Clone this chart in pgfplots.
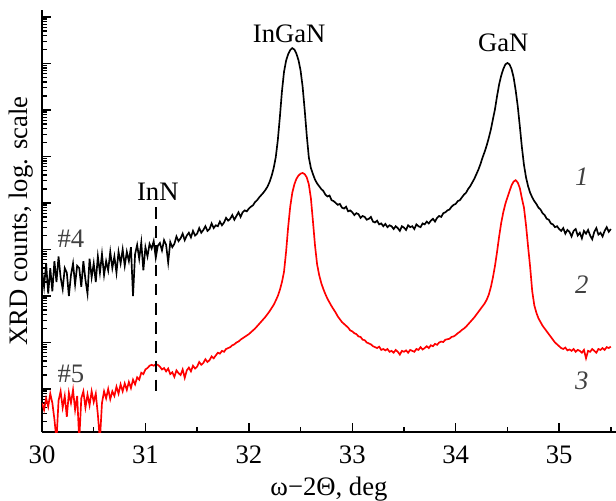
\documentclass[border=0pt]{standalone}
\usepackage{fontspec}
\setmainfont{Liberation Serif}
\usepackage{pgfplots}
\pgfplotsset{compat=1.18}
\definecolor{labelgray}{HTML}{404040}

% y values are log10 of the counts
\pgfplotstableread{
x L
30.00 3.55
30.02 3.20
30.04 3.70
30.06 3.05
30.08 3.60
30.10 3.10
30.12 3.75
30.14 3.30
30.16 3.85
30.18 3.40
30.20 3.15
30.22 3.60
30.24 3.50
30.26 3.00
30.28 3.45
30.30 3.70
30.32 3.25
30.34 3.65
30.36 3.60
30.38 3.20
30.40 3.75
30.42 3.35
30.44 3.05
30.46 3.80
30.48 3.40
30.50 3.70
30.52 3.30
30.54 3.85
30.56 3.50
30.58 3.90
30.60 3.45
30.62 3.75
30.64 3.55
30.66 3.95
30.68 3.60
30.70 3.85
30.72 3.50
30.74 3.95
30.76 3.70
30.78 4.00
30.80 3.65
30.82 3.95
30.84 3.75
30.86 4.05
30.88 3.00
30.90 3.90
30.92 4.10
30.94 3.80
30.96 4.15
30.98 3.55
31.00 4.05
31.02 3.85
31.04 4.12
31.06 4.02
31.08 4.18
31.10 3.82
31.12 4.08
31.14 4.14
31.16 3.98
31.18 4.20
31.20 4.10
31.22 3.72
31.24 4.16
31.26 4.05
31.28 4.12
31.30 4.28
31.32 4.18
31.34 4.24
31.36 4.34
31.38 4.20
31.40 4.30
31.42 4.36
31.44 4.26
31.46 4.40
31.48 4.30
31.50 4.34
31.52 4.46
31.54 4.36
31.56 4.42
31.58 4.50
31.60 4.40
31.62 4.44
31.64 4.56
31.66 4.46
31.68 4.52
31.70 4.50
31.72 4.60
31.74 4.52
31.76 4.58
31.78 4.68
31.80 4.62
31.82 4.66
31.84 4.74
31.86 4.64
31.88 4.72
31.90 4.80
31.92 4.70
31.94 4.80
31.96 4.84
31.98 4.82
32.00 4.88
32.02 4.92
32.04 4.95
32.06 5.02
32.08 5.06
32.10 5.12
32.12 5.17
32.14 5.22
32.16 5.28
32.18 5.35
32.20 5.45
32.22 5.58
32.24 5.75
32.26 5.98
32.28 6.35
32.30 6.85
32.32 7.40
32.34 7.82
32.36 8.06
32.38 8.20
32.40 8.29
32.42 8.33
32.44 8.30
32.46 8.21
32.48 8.07
32.50 7.85
32.52 7.50
32.54 7.00
32.56 6.45
32.58 5.98
32.60 5.75
32.62 5.62
32.64 5.50
32.66 5.42
32.68 5.36
32.70 5.30
32.72 5.26
32.74 5.18
32.76 5.14
32.78 5.16
32.80 5.06
32.82 5.04
32.84 5.00
32.86 4.96
32.88 4.98
32.90 4.90
32.92 4.88
32.94 4.92
32.96 4.82
32.98 4.84
33.00 4.80
33.02 4.74
33.04 4.78
33.06 4.76
33.08 4.68
33.10 4.72
33.12 4.70
33.14 4.64
33.16 4.66
33.18 4.70
33.20 4.60
33.22 4.58
33.24 4.62
33.26 4.54
33.28 4.56
33.30 4.50
33.32 4.55
33.34 4.48
33.36 4.52
33.38 4.50
33.40 4.44
33.42 4.50
33.44 4.46
33.46 4.40
33.48 4.50
33.50 4.47
33.52 4.42
33.54 4.52
33.56 4.48
33.58 4.50
33.60 4.44
33.62 4.54
33.64 4.50
33.66 4.48
33.68 4.56
33.70 4.54
33.72 4.60
33.74 4.56
33.76 4.62
33.78 4.66
33.80 4.60
33.82 4.68
33.84 4.72
33.86 4.70
33.88 4.78
33.90 4.80
33.92 4.84
33.94 4.86
33.96 4.92
33.98 4.96
34.00 4.98
34.02 5.04
34.04 5.06
34.06 5.12
34.08 5.18
34.10 5.22
34.12 5.30
34.14 5.36
34.16 5.44
34.18 5.52
34.20 5.62
34.22 5.72
34.24 5.84
34.26 5.98
34.28 6.10
34.30 6.24
34.32 6.40
34.34 6.58
34.36 6.80
34.38 7.02
34.40 7.30
34.42 7.55
34.44 7.74
34.46 7.88
34.48 7.98
34.50 8.01
34.52 7.98
34.54 7.88
34.56 7.70
34.58 7.42
34.60 7.08
34.62 6.65
34.64 6.20
34.66 5.82
34.68 5.55
34.70 5.36
34.72 5.22
34.74 5.12
34.76 5.04
34.78 4.98
34.80 4.90
34.82 4.86
34.84 4.78
34.86 4.74
34.88 4.66
34.90 4.64
34.92 4.56
34.94 4.54
34.96 4.48
34.98 4.50
35.00 4.44
35.02 4.40
35.04 4.46
35.06 4.34
35.08 4.42
35.10 4.38
35.12 4.28
35.14 4.40
35.16 4.44
35.18 4.30
35.20 4.36
35.22 4.24
35.24 4.40
35.26 4.34
35.28 4.42
35.30 4.30
35.32 4.22
35.34 4.38
35.36 4.46
35.38 4.32
35.40 4.36
35.42 4.28
35.44 4.40
35.46 4.48
35.48 4.38
35.50 4.44
}\sampleA

\pgfplotstableread{
x L
30.00 0.70
30.02 0.55
30.04 0.80
30.06 0.62
30.08 0.90
30.10 0.70
30.12 0.35
30.14 -0.10
30.16 0.75
30.18 0.95
30.20 0.60
30.22 0.85
30.24 0.40
30.26 0.92
30.28 0.70
30.30 0.98
30.32 0.55
30.34 0.85
30.36 -0.10
30.38 0.80
30.40 0.95
30.42 0.60
30.44 0.88
30.46 0.65
30.48 0.95
30.50 0.72
30.52 0.90
30.54 0.45
30.56 -0.10
30.58 0.70
30.60 0.95
30.62 0.80
30.64 1.00
30.66 0.78
30.68 0.95
30.70 0.85
30.72 1.05
30.74 0.90
30.76 1.10
30.78 0.95
30.80 1.12
30.82 0.98
30.84 1.15
30.86 1.02
30.88 1.20
30.90 1.10
30.92 1.25
30.94 1.20
30.96 1.35
30.98 1.32
31.00 1.42
31.02 1.45
31.04 1.50
31.06 1.52
31.08 1.50
31.10 1.53
31.12 1.52
31.14 1.48
31.16 1.42
31.18 1.45
31.20 1.38
31.22 1.44
31.24 1.32
31.26 1.36
31.28 1.26
31.30 1.40
31.32 1.34
31.34 1.30
31.36 1.42
31.38 1.24
31.40 1.40
31.42 1.46
31.44 1.38
31.46 1.50
31.48 1.44
31.50 1.48
31.52 1.58
31.54 1.52
31.56 1.56
31.58 1.64
31.60 1.58
31.62 1.62
31.64 1.70
31.66 1.66
31.68 1.72
31.70 1.78
31.72 1.76
31.74 1.82
31.76 1.80
31.78 1.86
31.80 1.88
31.82 1.90
31.84 1.94
31.86 1.96
31.88 2.00
31.90 2.02
31.92 2.06
31.94 2.09
31.96 2.12
31.98 2.15
32.00 2.18
32.02 2.22
32.04 2.26
32.06 2.30
32.08 2.35
32.10 2.40
32.12 2.45
32.14 2.50
32.16 2.55
32.18 2.61
32.20 2.67
32.22 2.74
32.24 2.81
32.26 2.90
32.28 3.00
32.30 3.13
32.32 3.30
32.34 3.52
32.36 3.95
32.38 4.48
32.40 4.92
32.42 5.22
32.44 5.40
32.46 5.52
32.48 5.59
32.50 5.63
32.52 5.645
32.54 5.62
32.56 5.55
32.58 5.40
32.60 5.10
32.62 4.60
32.64 4.08
32.66 3.68
32.68 3.45
32.70 3.28
32.72 3.15
32.74 3.04
32.76 2.94
32.78 2.86
32.80 2.78
32.82 2.71
32.84 2.64
32.86 2.56
32.88 2.50
32.90 2.44
32.92 2.40
32.94 2.36
32.96 2.32
32.98 2.26
33.00 2.24
33.02 2.20
33.04 2.18
33.06 2.13
33.08 2.12
33.10 2.06
33.12 2.05
33.14 2.00
33.16 1.98
33.18 1.96
33.20 1.92
33.22 1.90
33.24 1.88
33.26 1.91
33.28 1.84
33.30 1.86
33.32 1.83
33.34 1.86
33.36 1.80
33.38 1.82
33.40 1.78
33.42 1.84
33.44 1.80
33.46 1.74
33.48 1.82
33.50 1.80
33.52 1.83
33.54 1.78
33.56 1.84
33.58 1.82
33.60 1.80
33.62 1.86
33.64 1.84
33.66 1.90
33.68 1.85
33.70 1.88
33.72 1.92
33.74 1.88
33.76 1.94
33.78 1.92
33.80 1.97
33.82 1.95
33.84 2.00
33.86 2.02
33.88 2.01
33.90 2.06
33.92 2.07
33.94 2.08
33.96 2.12
33.98 2.13
34.00 2.16
34.02 2.20
34.04 2.23
34.06 2.27
34.08 2.30
34.10 2.34
34.12 2.39
34.14 2.44
34.16 2.49
34.18 2.54
34.20 2.60
34.22 2.66
34.24 2.72
34.26 2.78
34.28 2.84
34.30 2.92
34.32 3.03
34.34 3.19
34.36 3.40
34.38 3.65
34.40 3.95
34.42 4.28
34.44 4.57
34.46 4.80
34.48 4.98
34.50 5.12
34.52 5.25
34.54 5.38
34.56 5.46
34.58 5.49
34.60 5.44
34.62 5.32
34.64 5.10
34.66 4.90
34.68 4.52
34.70 4.06
34.72 3.62
34.74 3.10
34.76 2.80
34.78 2.64
34.80 2.52
34.82 2.44
34.84 2.36
34.86 2.30
34.88 2.24
34.90 2.18
34.92 2.12
34.94 2.06
34.96 2.00
34.98 1.96
35.00 1.92
35.02 1.88
35.04 1.86
35.06 1.89
35.08 1.83
35.10 1.85
35.12 1.82
35.14 1.86
35.16 1.80
35.18 1.84
35.20 1.82
35.22 1.78
35.24 1.84
35.26 1.66
35.28 1.82
35.30 1.80
35.32 1.86
35.34 1.82
35.36 1.78
35.38 1.86
35.40 1.84
35.42 1.88
35.44 1.84
35.46 1.90
35.48 1.88
35.50 1.91
}\sampleB

\begin{document}
\begin{tikzpicture}[font=\fontsize{16}{19}\selectfont]
\begin{axis}[
    scale only axis,
    width=344.4pt, height=253.2pt,
    xmin=30, xmax=35.55,
    ymin=0.075, ymax=9.15,
    axis lines*=left,
    axis line style={line width=1.2pt},
    tick align=inside,
    tick style={black, line width=0.8pt},
    major tick length=5.5pt,
    minor tick length=3.2pt,
    xtick={30,31,...,35},
    minor xtick={30.5,31.5,...,35.5},
    ytick={1,2,...,9},
    minor ytick={0.301,1.301,...,9.301,0.477,1.477,...,8.477,0.602,1.602,...,8.602,0.699,1.699,...,8.699,0.778,1.778,...,8.778,0.845,1.845,...,8.845,0.903,1.903,...,8.903,0.954,1.954,...,8.954},
    yticklabels={},
    /pgf/number format/assume math mode=true,
    xticklabel={\pgfmathprintnumber{\tick}},
    xticklabel style={anchor=base, yshift=-18.6pt},
    xlabel={ω−2Θ, deg},
    xlabel style={at={(axis description cs:0.5,0)}, anchor=base, yshift=-37.8pt},
    ylabel={XRD counts, log. scale},
    ylabel style={at={(axis description cs:-0.014,0.5)}, anchor=south, inner sep=0pt},
]
\addplot[black, line width=1pt] table[x=x, y=L] {\sampleA};
\addplot[red, line width=1pt] table[x=x, y=L] {\sampleB};
\draw[black, line width=0.9pt, dash pattern=on 7pt off 4.5pt] (axis cs:31.1,4.91) -- (axis cs:31.1,0.87);
\node[anchor=base] at (axis cs:32.39,8.46) {InGaN};
\node[anchor=base] at (axis cs:34.46,8.25) {GaN};
\node[anchor=base] at (axis cs:31.12,5.06) {InN};
\node[anchor=base, text=labelgray] at (axis cs:30.28,4.05) {\#4};
\node[anchor=base, text=labelgray] at (axis cs:30.28,1.15) {\#5};
\node[anchor=base, text=labelgray] at (axis cs:35.22,5.37) {\itshape 1};
\node[anchor=base, text=labelgray] at (axis cs:35.22,3.06) {\itshape 2};
\node[anchor=base, text=labelgray] at (axis cs:35.22,0.98) {\itshape 3};
\end{axis}
\pgfresetboundingbox
\path ([xshift=-25.2pt,yshift=-40.8pt]current axis.south west) rectangle ([yshift=6pt]current axis.north east);
\end{tikzpicture}
\end{document}
